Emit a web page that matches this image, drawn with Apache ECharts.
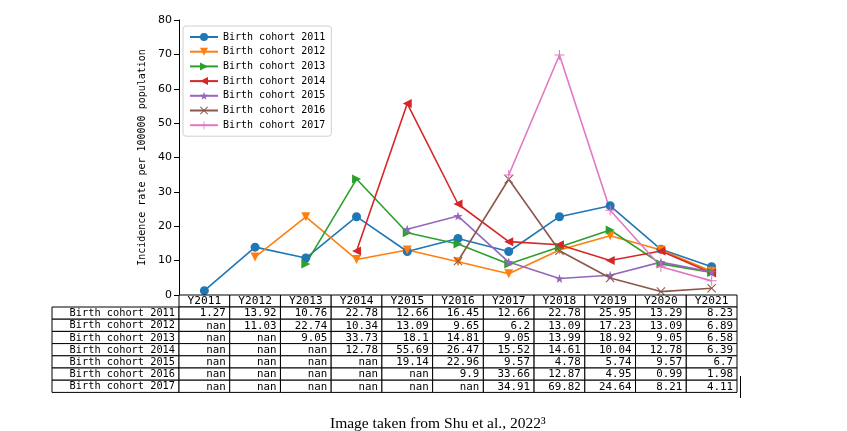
<!DOCTYPE html>
<html style="height: 100%">
<head>
    <meta charset="utf-8">
    <title>Incidence by birth cohort</title>
    <script src="https://cdn.jsdelivr.net/npm/echarts@6/dist/echarts.min.js"></script>
</head>
<body style="height: 100%; margin: 0; background: #fff">
<div id="container" style="width: 847px; height: 431px"></div>
<script type="text/javascript">
    // data (null = nan)
    var years = ['Y2011', 'Y2012', 'Y2013', 'Y2014', 'Y2015', 'Y2016', 'Y2017', 'Y2018', 'Y2019', 'Y2020', 'Y2021'];
    var cohortNames = ['Birth cohort 2011', 'Birth cohort 2012', 'Birth cohort 2013', 'Birth cohort 2014',
        'Birth cohort 2015', 'Birth cohort 2016', 'Birth cohort 2017'];
    var cohort2011 = [1.27, 13.92, 10.76, 22.78, 12.66, 16.45, 12.66, 22.78, 25.95, 13.29, 8.23];
    var cohort2012 = [null, 11.03, 22.74, 10.34, 13.09, 9.65, 6.2, 13.09, 17.23, 13.09, 6.89];
    var cohort2013 = [null, null, 9.05, 33.73, 18.1, 14.81, 9.05, 13.99, 18.92, 9.05, 6.58];
    var cohort2014 = [null, null, null, 12.78, 55.69, 26.47, 15.52, 14.61, 10.04, 12.78, 6.39];
    var cohort2015 = [null, null, null, null, 19.14, 22.96, 9.57, 4.78, 5.74, 9.57, 6.7];
    var cohort2016 = [null, null, null, null, null, 9.9, 33.66, 12.87, 4.95, 0.99, 1.98];
    var cohort2017 = [null, null, null, null, null, null, 34.91, 69.82, 24.64, 8.21, 4.11];
    var cohortValues = [cohort2011, cohort2012, cohort2013, cohort2014, cohort2015, cohort2016, cohort2017];

    var colors = ['#1f77b4', '#ff7f0e', '#2ca02c', '#d62728', '#9467bd', '#8c564b', '#e377c2'];
    var starPath = 'path://M0,-10L2.35,-3.24L9.51,-3.09L3.8,1.24L5.88,8.09L0,4L-5.88,8.09L-3.8,1.24L-9.51,-3.09L-2.35,-3.24Z';
    var xPath = 'path://M-5,-4.2L-4.2,-5L0,-0.8L4.2,-5L5,-4.2L0.8,0L5,4.2L4.2,5L0,0.8L-4.2,5L-5,4.2L-0.8,0Z';
    var plusPath = 'path://M-0.5,-5L0.5,-5L0.5,-0.5L5,-0.5L5,0.5L0.5,0.5L0.5,5L-0.5,5L-0.5,0.5L-5,0.5L-5,-0.5L-0.5,-0.5Z';
    var symbols = [
        ['circle', 0, 9], ['triangle', 180, 9], ['triangle', -90, 9], ['triangle', 90, 9],
        [starPath, 0, 9], [xPath, 0, 9], [plusPath, 0, 10]
    ];

    var mono = 'DejaVu Sans Mono';
    var dom = document.getElementById("container");
    var myChart = echarts.init(dom);

    var series = cohortNames.map(function (name, i) {
        return {
            name: name,
            type: 'line',
            data: cohortValues[i],
            connectNulls: false,
            symbol: symbols[i][0],
            symbolRotate: symbols[i][1],
            symbolSize: symbols[i][2],
            showAllSymbol: true,
            itemStyle: {color: colors[i], borderWidth: 0},
            lineStyle: {color: colors[i], width: 1.6},
            emphasis: {disabled: true},
            animation: false
        };
    });

    var option = {
        animation: false,
        grid: {left: 179, right: 110, top: 20, bottom: 136},
        legend: {
            orient: 'vertical',
            left: 183,
            top: 26,
            padding: [6, 6, 6, 6],
            itemGap: 4.7,
            itemWidth: 28,
            itemHeight: 10,
            borderColor: '#d0d0d0',
            borderWidth: 1,
            borderRadius: 3,
            textStyle: {fontFamily: mono, fontSize: 10, color: '#000'},
            data: cohortNames
        },
        xAxis: {
            type: 'category',
            data: years,
            boundaryGap: true,
            axisLine: {show: false},
            axisTick: {show: false},
            axisLabel: {show: false},
            splitLine: {show: false}
        },
        yAxis: {
            type: 'value',
            min: 0,
            max: 80,
            interval: 10,
            name: 'Incidence rate per 100000 population',
            nameLocation: 'middle',
            nameGap: 22,
            nameTextStyle: {fontFamily: mono, fontSize: 10, color: '#000'},
            axisLine: {show: true, lineStyle: {color: '#000', width: 1}},
            axisTick: {show: true, length: 5, lineStyle: {color: '#000'}},
            axisLabel: {fontFamily: 'DejaVu Sans', fontSize: 11, color: '#000', margin: 7},
            splitLine: {show: false}
        },
        series: series
    };
    myChart.setOption(option, true);

    // table under the plot, columns lined up with the category axis
    var headTop = 295, headH = 12, rowH = 12.2, labelLeft = 52;
    var gridLeft = 179;
    var c0 = myChart.convertToPixel({xAxisIndex: 0}, years[0]);
    var c1 = myChart.convertToPixel({xAxisIndex: 0}, years[1]);
    var colW = c1 - c0;
    var els = [];
    function cell(x, y, w, h, text, align, size) {
        els.push({
            type: 'rect',
            shape: {x: x, y: y, width: w, height: h},
            style: {fill: '#fff', stroke: '#000', lineWidth: 1},
            z: 10
        });
        els.push({
            type: 'text',
            x: align === 'center' ? x + w / 2 : x + w - 4,
            y: y + h / 2 + 0.5,
            style: {
                text: text,
                fontFamily: mono,
                fontSize: size,
                fill: '#000',
                align: align,
                verticalAlign: 'middle'
            },
            z: 11
        });
    }
    years.forEach(function (yr) {
        var cx = myChart.convertToPixel({xAxisIndex: 0}, yr);
        cell(cx - colW / 2, headTop, colW, headH, yr, 'center', 11.2);
    });
    cohortNames.forEach(function (name, i) {
        var top = headTop + headH + i * rowH;
        cell(labelLeft, top, gridLeft - labelLeft, rowH, name, 'right', 10.3);
        years.forEach(function (yr, j) {
            var cx = myChart.convertToPixel({xAxisIndex: 0}, yr);
            var v = cohortValues[i][j];
            cell(cx - colW / 2, top, colW, rowH, v === null ? 'nan' : String(v), 'right', 10.8);
        });
    });
    // stray vertical mark right of the table
    els.push({
        type: 'line',
        shape: {x1: 740.5, y1: 376, x2: 740.5, y2: 398},
        style: {stroke: '#000', lineWidth: 1},
        z: 11
    });
    els.push({
        type: 'text',
        left: 330,
        top: 416,
        style: {
            text: 'Image taken from Shu et al., 2022³',
            fontFamily: 'Liberation Serif',
            fontSize: 15.5,
            fill: '#000'
        }
    });
    myChart.setOption({graphic: els});
</script>
</body>
</html>
